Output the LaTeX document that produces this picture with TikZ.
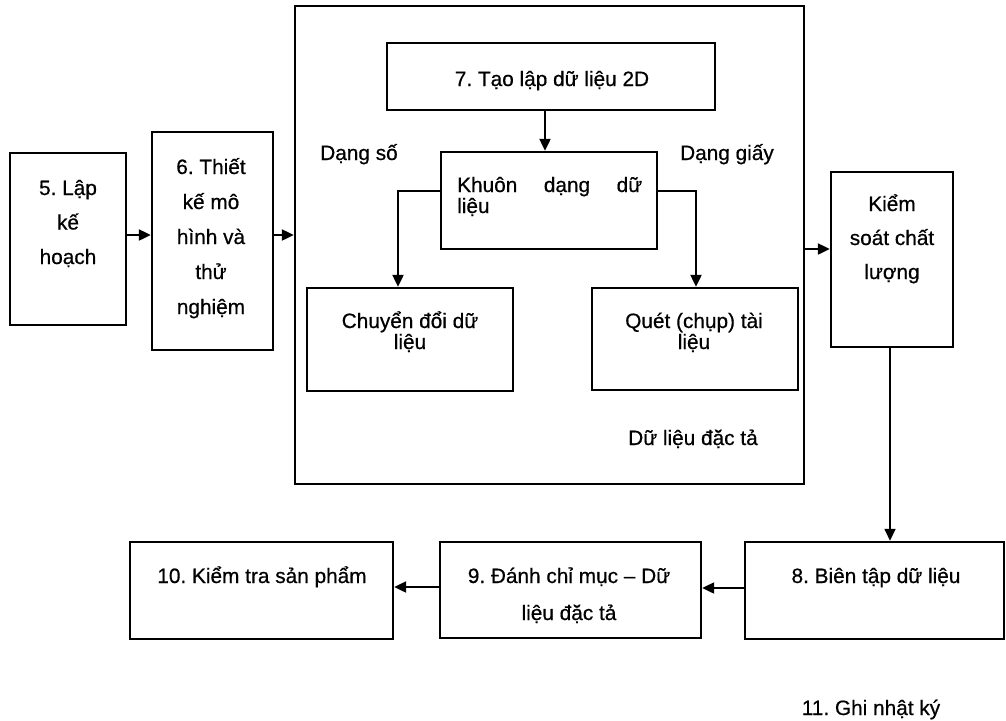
\documentclass[tikz,border=0pt]{standalone}
\usepackage{fontspec}
\setmainfont{Liberation Sans}[FakeBold=0.6]
\usetikzlibrary{arrows.meta}
\lineskiplimit=-200pt
\lineskip=0pt
\frenchspacing
\begin{document}
\begin{tikzpicture}[x=1pt,y=-1pt,
  box/.style={draw, line width=2.4pt, inner sep=0pt, rectangle},
  arr/.style={line width=2.2pt, -{Triangle[length=12pt,width=11pt]}},
  lbl/.style={anchor=base, inner sep=0pt, align=center, font=\fontsize{20.8}{21}\selectfont},
  sk/.style={font=\fontsize{20.8}{#1}\selectfont}
]
\useasboundingbox (0,0) rectangle (1006,720);

% boxes
\node[box, minimum width=116pt, minimum height=172pt] (b5) at (68,239) {};
\node[box, minimum width=121pt, minimum height=218pt] (b6) at (212.5,241) {};
\node[box, minimum width=509pt, minimum height=478pt] (frame) at (549.5,245) {};
\node[box, minimum width=328pt, minimum height=67pt] (b7) at (551,76.5) {};
\node[box, minimum width=216pt, minimum height=97pt] (khuon) at (549,200.5) {};
\node[box, minimum width=206pt, minimum height=103pt] (chuyen) at (410,339.5) {};
\node[box, minimum width=206pt, minimum height=102pt] (quet) at (695,339) {};
\node[box, minimum width=122pt, minimum height=175pt] (kiem) at (892,259.5) {};
\node[box, minimum width=259pt, minimum height=97pt] (b8) at (874.5,590.5) {};
\node[box, minimum width=261pt, minimum height=96pt] (b9) at (570.5,590) {};
\node[box, minimum width=263pt, minimum height=97pt] (b10) at (261.5,590.5) {};

% texts (anchor base = baseline of the last line)
\node[lbl, sk=34.5] (t5) at (68,264) {5. Lập\\kế\\hoạch};
\node[lbl, sk=35] (t6) at (211,314) {6. Thiết\\kế mô\\hình và\\thử\\nghiệm};
\node[lbl] (t7) at (552,86) {7. Tạo lập dữ liệu 2D};
\node[lbl] (dangso) at (359,160) {Dạng số};
\node[lbl] (danggiay) at (727,160) {Dạng giấy};
\node[lbl, anchor=base west, align=left, sk=21] (tkhuon) at (457,213) {\makebox[185pt][s]{Khuôn dạng dữ}\\liệu};
\node[lbl, sk=21] (tchuyen) at (410,349) {Chuyển đổi dữ\\liệu};
\node[lbl, sk=21] (tquet) at (694,349) {Quét (chụp) tài\\liệu};
\node[lbl] (dacta) at (693,445) {Dữ liệu đặc tả};
\node[lbl, sk=34] (tkiem) at (892,279) {Kiểm\\soát chất\\lượng};
\node[lbl] (t8) at (876,583) {8. Biên tập dữ liệu};
\node[lbl, sk=37] (t9) at (569,620) {9. Đánh chỉ mục – Dữ\\liệu đặc tả};
\node[lbl] (t10) at (262,583) {10. Kiểm tra sản phẩm};
\node[lbl] (t11) at (871,715) {11. Ghi nhật ký};

% connectors
\draw[arr] (b5.east |- 0,235) -- (b6.west |- 0,235);
\draw[arr] (b6.east |- 0,235) -- (frame.west |- 0,235);
\draw[arr] (b7.south -| 545,0) -- (khuon.north -| 545,0);
\draw[arr] (khuon.west |- 0,191) -| (chuyen.north -| 398,0);
\draw[arr] (khuon.east |- 0,191) -| (quet.north -| 696,0);
\draw[arr] (frame.east |- 0,249) -- (kiem.west |- 0,249);
\draw[arr, line width=1.6pt] (kiem.south -| 890,0) -- (b8.north -| 890,0);
\draw[arr] (b8.west |- 0,588) -- (b9.east |- 0,588);
\draw[arr] (b9.west |- 0,587) -- (b10.east |- 0,587);
\end{tikzpicture}
\end{document}
